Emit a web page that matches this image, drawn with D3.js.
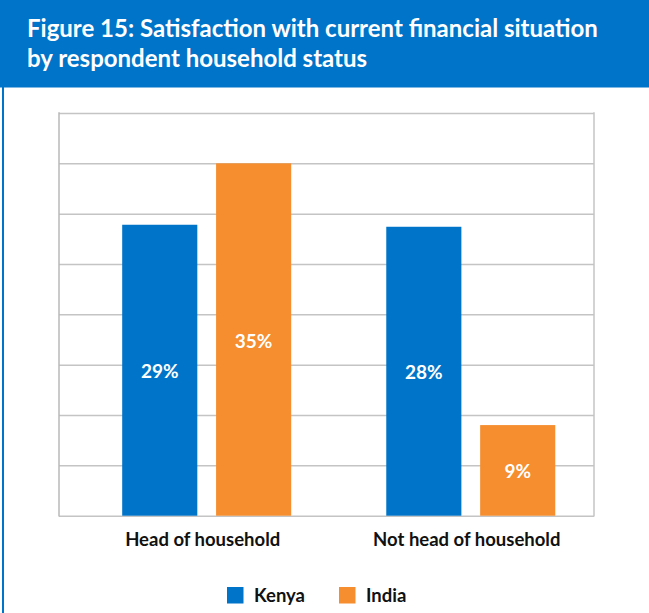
<!DOCTYPE html>
<html>
<head>
<meta charset="utf-8">
<script src="https://cdn.jsdelivr.net/npm/d3@7"></script>
<style>
  html, body { margin: 0; padding: 0; background: #fff; }
  svg { display: block; }
</style>
</head>
<body>
<script>
const titleLines = ["Figure 15: Satisfaction with current financial situation", "by respondent household status"];
const categories = ["Head of household", "Not head of household"];
const seriesNames = ["Kenya", "India"];
const kenyaValues = [28.9, 28.7];
const indiaValues = [35, 9];
const kenyaLabels = ["29%", "28%"];
const indiaLabels = ["35%", "9%"];
const yTicks = [0, 5, 10, 15, 20, 25, 30, 35, 40];
const colors = ["#0074c8", "#f68d2e"];

const W = 649, H = 613;
const font = "Lato, 'Open Sans', sans-serif";
const svg = d3.select("body").append("svg").attr("width", W).attr("height", H);

// banner
svg.append("rect").attr("x", 0).attr("y", 0).attr("width", W).attr("height", 87.5).attr("fill", "#0074c8");
svg.append("rect").attr("x", 2).attr("y", 87).attr("width", 2).attr("height", H - 87).attr("fill", "#0074c8");
svg.append("g").selectAll("text").data(titleLines).join("text")
  .attr("x", 27).attr("y", (d, i) => 37 + i * 30)
  .attr("fill", "#fff").attr("font-family", font).attr("font-weight", 700).attr("font-size", 24)
  .text(d => d);

const plot = { left: 59, right: 594, top: 113, bottom: 515.7 };
const y = d3.scaleLinear().domain([0, 40]).range([plot.bottom, plot.top]);
const x0 = d3.scaleBand().domain(categories).range([plot.left, plot.right])
  .paddingInner(0.36).paddingOuter(0.193).align(0.62);
const x1 = d3.scaleBand().domain(seriesNames).range([0, x0.bandwidth()]).paddingInner(0.2).paddingOuter(0);

// grid
const grid = svg.append("g").call(d3.axisLeft(y).tickValues(yTicks).tickSize(-(plot.right - plot.left)).tickFormat(""))
  .attr("transform", `translate(${plot.left},0)`);
grid.select(".domain").remove();
grid.selectAll("line").attr("stroke", "#c4c4c4").attr("stroke-width", 1.5);
svg.append("line").attr("x1", plot.left).attr("x2", plot.left).attr("y1", plot.top - 0.75).attr("y2", plot.bottom + 0.75)
  .attr("stroke", "#b8b8b8").attr("stroke-width", 1.5);
svg.append("line").attr("x1", plot.right).attr("x2", plot.right).attr("y1", plot.top - 0.75).attr("y2", plot.bottom + 0.75)
  .attr("stroke", "#c4c4c4").attr("stroke-width", 1.5);

const data = [];
categories.forEach((c, i) => {
  data.push({ cat: c, s: "Kenya", v: kenyaValues[i], label: kenyaLabels[i], color: colors[0] });
  data.push({ cat: c, s: "India", v: indiaValues[i], label: indiaLabels[i], color: colors[1] });
});

svg.append("g").selectAll("rect").data(data).join("rect")
  .attr("x", d => x0(d.cat) + x1(d.s)).attr("width", x1.bandwidth())
  .attr("y", d => y(d.v)).attr("height", d => y(0) - y(d.v))
  .attr("fill", d => d.color);

svg.append("g").selectAll("text").data(data).join("text")
  .attr("x", d => x0(d.cat) + x1(d.s) + x1.bandwidth() / 2)
  .attr("y", d => (y(d.v) + y(0)) / 2 + 8)
  .attr("text-anchor", "middle").attr("fill", "#fff")
  .attr("font-family", font).attr("font-weight", 700).attr("font-size", 19)
  .text(d => d.label);

// category labels
svg.append("g").selectAll("text").data(categories).join("text")
  .attr("x", d => x0(d) + x0.bandwidth() / 2 - 4).attr("y", 545.5)
  .attr("text-anchor", "middle").attr("fill", "#111")
  .attr("font-family", font).attr("font-weight", 700).attr("font-size", 18.5)
  .text(d => d);

// legend
const legendX = [227, 339];
const lg = svg.append("g").selectAll("g").data(seriesNames).join("g")
  .attr("transform", (d, i) => `translate(${legendX[i]},587)`);
lg.append("rect").attr("width", 16.5).attr("height", 16.5).attr("fill", (d, i) => colors[i]);
lg.append("text").attr("x", 27).attr("y", 15).attr("fill", "#111")
  .attr("font-family", font).attr("font-weight", 700).attr("font-size", 18.5)
  .text(d => d);
</script>
</body>
</html>
